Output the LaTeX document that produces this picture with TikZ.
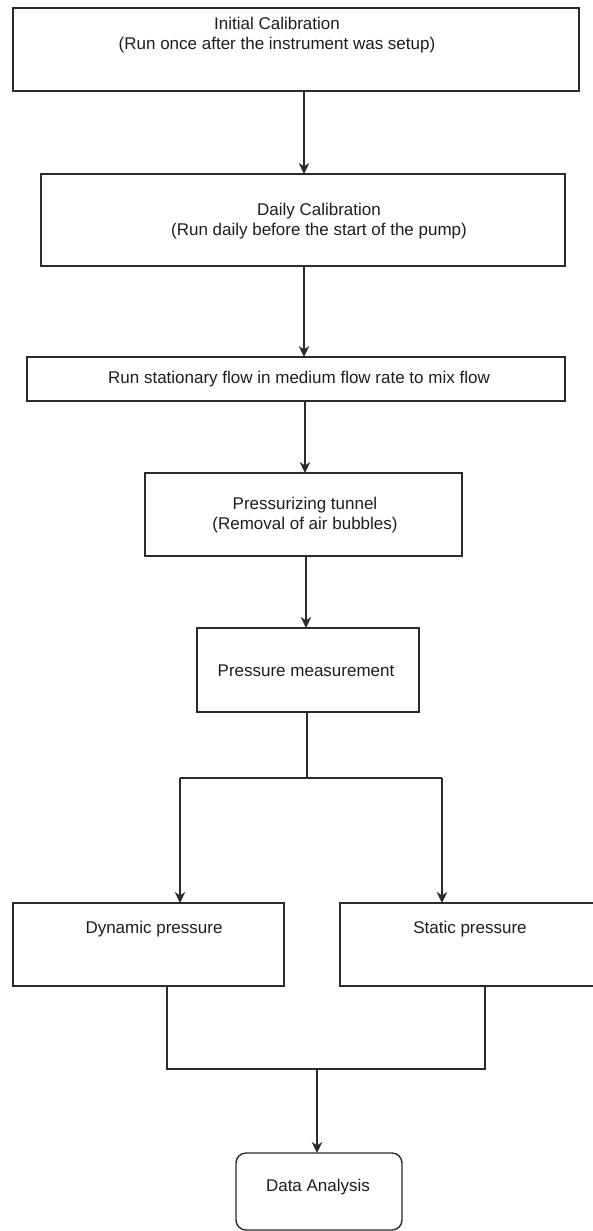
\documentclass[tikz,border=0pt]{standalone}
\usepackage{fontspec}
\setmainfont{Liberation Sans}
\usetikzlibrary{arrows.meta}
\definecolor{edge}{HTML}{2B2B2B}
\definecolor{ink}{HTML}{1E1E1E}
\tikzset{
  box/.style={draw=edge, line width=1.4pt, fill=white, rectangle, inner sep=0pt, outer sep=0pt},
  rbox/.style={box, rounded corners=10pt},
  lbl/.style={text=ink, font=\fontsize{17}{20.5}\selectfont, align=center, inner sep=0pt},
  conn/.style={draw=edge, line width=1.4pt},
  arr/.style={conn, -{Stealth[length=11pt, width=10.5pt, inset=3.5pt]}}
}
\begin{document}
\begin{tikzpicture}[x=1pt, y=-1pt]
\useasboundingbox (0,0) rectangle (593,1231);
\clip (0,0) rectangle (593,1231);
\fill[white] (0,0) rectangle (593,1231);
% boxes
\node[box, minimum width=566pt, minimum height=83pt] (b1) at (296,49.5) {};
\node[box, minimum width=524pt, minimum height=92pt] (b2) at (303,220) {};
\node[box, minimum width=538pt, minimum height=44pt] (b3) at (296,379) {};
\node[box, minimum width=317pt, minimum height=83pt] (b4) at (303.5,514.5) {};
\node[box, minimum width=222pt, minimum height=84pt] (b5) at (308,670) {};
\node[box, minimum width=271pt, minimum height=83pt] (b6) at (148.5,944.5) {};
\node[box, minimum width=262pt, minimum height=83pt] (b7) at (471,944.5) {};
\node[rbox, minimum width=166pt, minimum height=77pt] (b8) at (319,1191.5) {};
% labels
\node[lbl] (t1) at (277,35) {Initial Calibration\\(Run once after the instrument was setup)};
\node[lbl] (t2) at (319,221) {Daily Calibration\\(Run daily before the start of the pump)};
\node[lbl] (t3) at (299,379.5) {Run stationary flow in medium flow rate to mix flow};
\node[lbl] (t4) at (305,515) {Pressurizing tunnel\\(Removal of air bubbles)};
\node[lbl] (t5) at (306,670.5) {Pressure measurement};
\node[lbl] (t6) at (154,929.5) {Dynamic pressure};
\node[lbl] (t7) at (470,929.5) {Static pressure};
\node[lbl] (t8) at (318,1187.5) {Data Analysis};
% junction coordinates
\coordinate (c12) at (304,0);
\coordinate (c34) at (305,0);
\coordinate (c45) at (306,0);
\coordinate (split) at (307,778);
\coordinate (sL) at (180,778);
\coordinate (sR) at (442,778);
\coordinate (mL) at (167,1069);
\coordinate (mR) at (485,1069);
\coordinate (merge) at (317,1069);
% connectors
\draw[arr] (b1.south -| c12) -- (b2.north -| c12);
\draw[arr] (b2.south -| c12) -- (b3.north -| c12);
\draw[arr] (b3.south -| c34) -- (b4.north -| c34);
\draw[arr] (b4.south -| c45) -- (b5.north -| c45);
\draw[conn] (b5.south -| split) -- (split);
\draw[conn] (sL) -- (sR);
\draw[arr] (sL) -- (sL |- b6.north);
\draw[arr] (sR) -- (sR |- b7.north);
\draw[conn] (b6.south -| mL) -- (mL) -- (mR) -- (b7.south -| mR);
\draw[arr] (merge) -- (merge |- b8.north);
\end{tikzpicture}
\end{document}
